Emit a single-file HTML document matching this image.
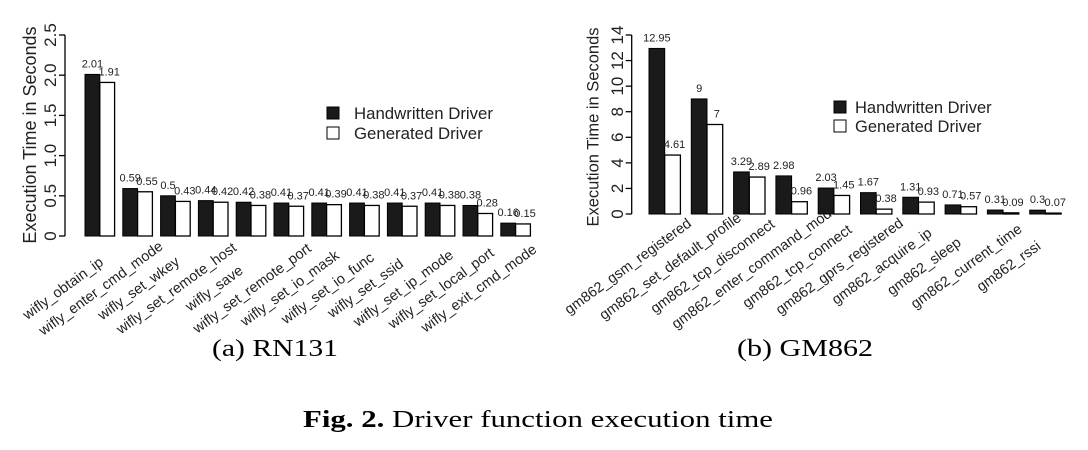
<!DOCTYPE html>
<html><head><meta charset="utf-8"><style>
body{margin:0;background:#fff}
svg{display:block}
</style></head><body>
<svg id="fig" width="1088" height="450" xmlns="http://www.w3.org/2000/svg" font-family="Liberation Sans, sans-serif">
<text x="212" y="356" font-family="Liberation Serif, serif" font-size="24" textLength="126" lengthAdjust="spacingAndGlyphs">(a) RN131</text>
<text x="737" y="356" font-family="Liberation Serif, serif" font-size="24" textLength="136" lengthAdjust="spacingAndGlyphs">(b) GM862</text>
<text x="303" y="427" font-family="Liberation Serif, serif" font-size="24" textLength="470" lengthAdjust="spacingAndGlyphs"><tspan font-weight="bold">Fig. 2.</tspan> Driver function execution time</text>
</svg>
<script>
const catsA = ["wifly_obtain_ip","wifly_enter_cmd_mode","wifly_set_wkey","wifly_set_remote_host","wifly_save","wifly_set_remote_port","wifly_set_io_mask","wifly_set_io_func","wifly_set_ssid","wifly_set_ip_mode","wifly_set_local_port","wifly_exit_cmd_mode"];
const handA = [2.01,0.59,0.5,0.44,0.42,0.41,0.41,0.41,0.41,0.41,0.38,0.16];
const genA = [1.91,0.55,0.43,0.42,0.38,0.37,0.39,0.38,0.37,0.38,0.28,0.15];
const ticksA = [0,0.5,1.0,1.5,2.0,2.5];
const tickLabelsA = ["0","0.5","1.0","1.5","2.0","2.5"];
const catsB = ["gm862_gsm_registered","gm862_set_default_profile","gm862_tcp_disconnect","gm862_enter_command_mode","gm862_tcp_connect","gm862_gprs_registered","gm862_acquire_ip","gm862_sleep","gm862_current_time","gm862_rssi"];
const handB = [12.95,9,3.29,2.98,2.03,1.67,1.31,0.71,0.31,0.3];
const genB = [4.61,7,2.89,0.96,1.45,0.38,0.93,0.57,0.09,0.07];
const ticksB = [0,2,4,6,8,10,12,14];
const tickLabelsB = ["0","2","4","6","8","10","12","14"];

const NS="http://www.w3.org/2000/svg";
const svg=document.getElementById('fig');
function mk(tag,attrs,parent,text){const e=document.createElementNS(NS,tag);for(const k in attrs)e.setAttribute(k,attrs[k]);if(text!==undefined)e.textContent=text;(parent||svg).appendChild(e);return e;}

function chart(o){
  const g=mk('g',{});
  
  
  const y=v=>o.y0-(v-o.ticks[0])/(o.ticks[o.ticks.length-1]-o.ticks[0])*(o.y0-o.yTop);
  const ax=mk('line',{x1:o.axX,x2:o.axX,y1:y(o.ticks[0]),y2:y(o.ticks[o.ticks.length-1]),stroke:'#000','stroke-width':1.3},g);
  
  
  o.ticks.forEach((t,i)=>{
    const tk=mk('line',{x1:o.axX-6,x2:o.axX,y1:y(t),y2:y(t),stroke:'#000','stroke-width':1.3},g);
    
    
    const tl=mk('text',{x:0,y:0,'font-size':o.tickFs,'text-anchor':'middle',transform:`translate(${o.tickX+o.tickFs*0.36},${y(t)}) rotate(-90)`,fill:'#222'},g,o.tickLabels[i]);
    
    
  });
  const tt=mk('text',{x:0,y:0,'font-size':o.titleFs,'text-anchor':'middle',transform:`translate(${o.titleX+o.titleFs*0.36},${o.titleY}) rotate(-90)`,fill:'#222'},g,'Execution Time in Seconds');
  
  
  o.cats.forEach((c,i)=>{
    const bx=o.x0+i*o.pitch;
    const hb=mk('rect',{x:bx,y:y(o.hand[i]),width:o.bw,height:y(0)-y(o.hand[i]),fill:'#1a1a1a',stroke:'#000','stroke-width':1},g);
    
    
    const gb=mk('rect',{x:bx+o.bw,y:y(o.gen[i]),width:o.bw,height:y(0)-y(o.gen[i]),fill:'#fff',stroke:'#000','stroke-width':1.3},g);
    
    
    const hv=mk('text',{x:bx+o.bw/2,y:y(o.hand[i])-7,'font-size':11,'text-anchor':'middle',fill:'#222'},g,String(o.hand[i]));
    
    
    const gv=mk('text',{x:bx+o.bw*1.5+2,y:y(o.gen[i])-7,'font-size':11,'text-anchor':'middle',fill:'#222'},g,String(o.gen[i]));
    
    
    const cx=bx+o.bw-37, cy=o.y0+52;
    const xl=mk('text',{x:0,y:0,'font-size':o.labFs,'text-anchor':'middle',transform:`translate(${cx},${cy}) rotate(-36)`,fill:'#222',dy:'0.35em'},g,c);
    
    
  });
  const L=o.leg;
  const s1=mk('rect',{x:L.x,y:L.y,width:12,height:12,fill:'#1a1a1a',stroke:'#000'},g);
  
  
  const t1=mk('text',{x:L.tx,y:L.y+12,'font-size':L.fs,fill:'#222'},g,'Handwritten Driver');
  
  
  const s2=mk('rect',{x:L.x,y:L.y+L.dy,width:12,height:12,fill:'#fff',stroke:'#000'},g);
  
  
  const t2=mk('text',{x:L.tx,y:L.y+L.dy+12,'font-size':L.fs,fill:'#222'},g,'Generated Driver');
  
  
}
chart({name:'chart-rn131',cats:catsA,hand:handA,gen:genA,ticks:ticksA,tickLabels:tickLabelsA,
  axX:65,y0:236,yTop:35,x0:85,pitch:37.8,bw:14.8,tickX:50,tickFs:17,titleX:29.5,titleY:135,titleFs:18,labFs:14.5,
  leg:{x:327,y:107,tx:354,fs:16.8,dy:20}});
chart({name:'chart-gm862',cats:catsB,hand:handB,gen:genB,ticks:ticksB,tickLabels:tickLabelsB,
  axX:631.7,y0:214,yTop:35,x0:649,pitch:42.3,bw:15.7,tickX:616.7,tickFs:17,titleX:592.7,titleY:127,titleFs:16.5,labFs:14.5,
  leg:{x:834,y:101,tx:855,fs:16.5,dy:19}});
</script>
</body></html>
